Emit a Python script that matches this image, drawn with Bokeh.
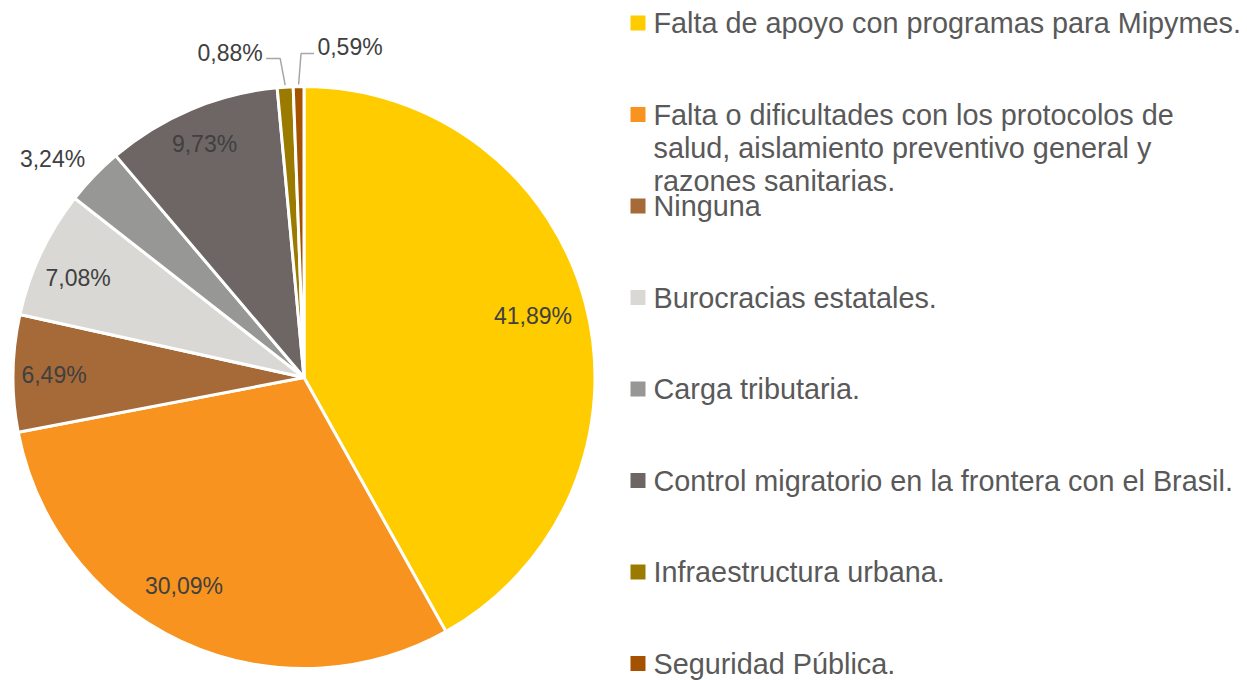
import numpy as np
from bokeh.plotting import figure
from bokeh.models import Range1d
from bokeh.embed import file_html
from bokeh.resources import INLINE
from bokeh.core.properties import value

# ---- data ----
categories = [
    "Falta de apoyo con programas para Mipymes.",
    "Falta o dificultades con los protocolos de\nsalud, aislamiento preventivo general y\nrazones sanitarias.",
    "Ninguna",
    "Burocracias estatales.",
    "Carga tributaria.",
    "Control migratorio en la frontera con el Brasil.",
    "Infraestructura urbana.",
    "Seguridad Pública.",
]
values = [41.89, 30.09, 6.49, 7.08, 3.24, 9.73, 0.88, 0.59]
value_labels = ["41,89%", "30,09%", "6,49%", "7,08%", "3,24%", "9,73%", "0,88%", "0,59%"]
colors = ["#FFCC00", "#F7931E", "#A66A38", "#D9D8D5", "#979795", "#6D6664", "#9A7B00", "#A45200"]

# ---- style / layout ----
label_r = [0.815, 0.828, 0.859, 0.848, 1.144, 0.871, 1.145, 1.145]
label_shift_deg = [-0.5, 4.9, -0.3, -1.5, -2.9, -0.3, -9.1, 9.0]
leader = [False, False, False, False, False, False, True, True]

W, H = 1247, 680
FONT = value("Liberation Sans")

p = figure(width=W, height=H, x_range=Range1d(0, W), y_range=Range1d(0, H),
           output_backend="svg", toolbar_location=None, min_border=0,
           x_axis_type=None, y_axis_type=None)
p.grid.visible = False
p.outline_line_color = None
p.background_fill_color = "white"
p.border_fill_color = "white"

cx, cy, R = 303.5, H - 377.0, 291.0
vals = np.array(values, dtype=float)
frac = vals / vals.sum()
cum = np.concatenate([[0.0], np.cumsum(frac)])
start = np.pi / 2 - 2 * np.pi * cum[:-1]
end = np.pi / 2 - 2 * np.pi * cum[1:]
mid = (start + end) / 2

p.wedge(x=cx, y=cy, radius=R, radius_units="screen", start_angle=start, end_angle=end,
        direction="clock", fill_color=colors, line_color="white", line_width=3)

# labels
lx, ly = [], []
for i in range(len(values)):
    a = mid[i] - np.deg2rad(label_shift_deg[i])
    lx.append(cx + label_r[i] * R * np.cos(a))
    ly.append(cy + label_r[i] * R * np.sin(a))

p.text(x=lx, y=ly, text=value_labels, text_align="center", text_baseline="middle",
       text_font=FONT, text_font_size="23px", text_color="#404040")

# leader lines for small slices
for i in range(len(values)):
    if not leader[i]:
        continue
    x0, y0 = cx + R * np.cos(mid[i]), cy + R * np.sin(mid[i])
    x1 = cx + 1.105 * R * np.cos(mid[i])
    side = -1 if lx[i] < x1 else 1
    x2 = lx[i] - side * 36
    y1 = ly[i] - 6
    p.line(x=[x0, x1 + side * 3, x2], y=[y0 + 2, y1, y1], line_color="#A6A6A6", line_width=1.5)

# legend (manual)
leg_x_sq = 637.5
leg_x_txt = 653
leg_top = H - 22.5
leg_step = 91.5
line_h = 33
for i, (cat, col) in enumerate(zip(categories, colors)):
    yy = leg_top - i * leg_step
    p.rect(x=leg_x_sq, y=yy, width=15, height=15, width_units="screen", height_units="screen",
           fill_color=col, line_color=None)
    for j, line in enumerate(cat.split("\n")):
        p.text(x=[leg_x_txt], y=[yy - j * line_h], text=[line], text_align="left",
               text_baseline="middle", text_font=FONT, text_font_size="28.8px",
               text_color="#595959")

open("out.html", "w").write(file_html(p, INLINE))
